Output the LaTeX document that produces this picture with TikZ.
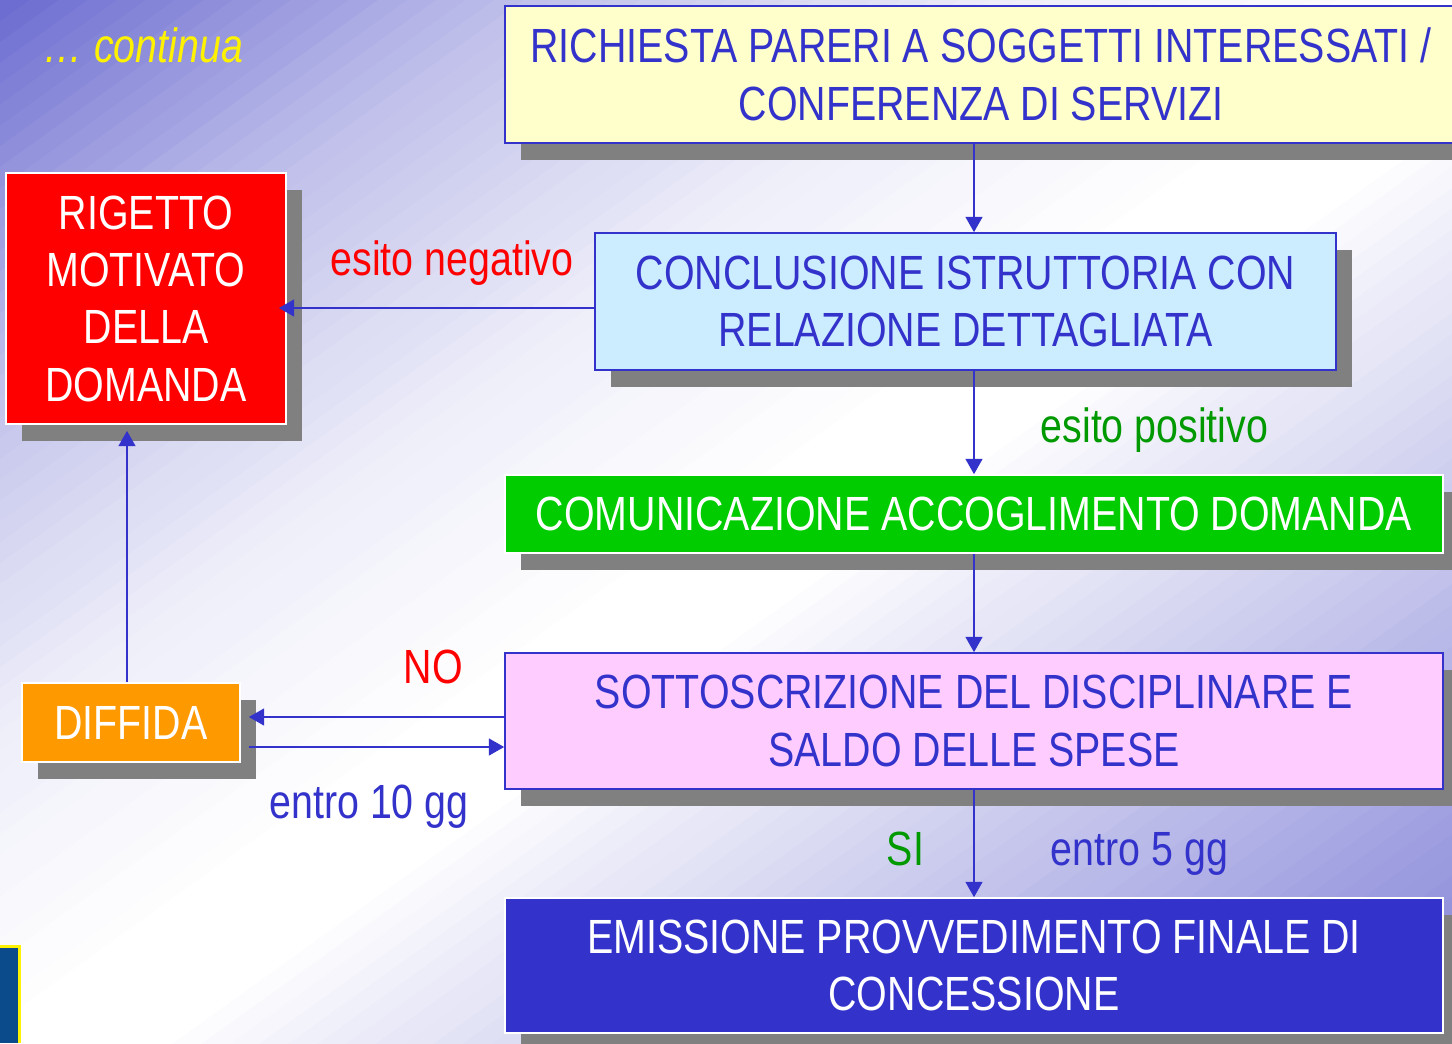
\documentclass[tikz,border=0pt]{standalone}
\usepackage{fontspec}
\setmainfont{Liberation Sans}[FakeStretch=0.82]
\usetikzlibrary{arrows.meta,calc,shadows}
\definecolor{bgdark}{RGB}{106,106,208}
\definecolor{dblue}{HTML}{3333CC}
\definecolor{yel}{HTML}{FFFFCC}
\definecolor{lblue}{HTML}{CCECFF}
\definecolor{gbox}{HTML}{00CC00}
\definecolor{pink}{HTML}{FFCCFF}
\definecolor{orng}{HTML}{FF9900}
\definecolor{redbox}{HTML}{FF0000}
\definecolor{shadowc}{HTML}{808080}
\definecolor{glab}{HTML}{009900}
\definecolor{logoblue}{HTML}{0B4A8B}
\tikzset{
  box/.style={rectangle, inner sep=0pt, line width=1.2pt, align=center,
    font=\fontsize{36}{43}\selectfont,
    general shadow={shadow xshift=12pt, shadow yshift=-12.75pt, fill=shadowc}},
  arr/.style={draw=dblue, line width=1.9pt, -{Triangle[width=12.5pt,length=11.5pt]}},
  lab/.style={anchor=base, inner sep=0pt, font=\fontsize{36}{43}\selectfont}
}
\begin{document}
\begin{tikzpicture}[x=0.75pt,y=-0.75pt]
\useasboundingbox (0,0) rectangle (1452,1043);
% background gradient
\begin{scope}
\clip (0,0) rectangle (1452,1043);
\foreach \i in {0,...,99}{
  \pgfmathsetmacro\ta{\i/50}
  \pgfmathsetmacro\tb{(\i+1.3)/50}
  \pgfmathsetmacro\tm{(\i+0.5)/50}
  \pgfmathtruncatemacro\p{\tm<0.35 ? 100-160*\tm : (\tm<0.7 ? 44-91.4*(\tm-0.35) : (\tm<1 ? 12-40*(\tm-0.7) : (\tm<1.1 ? 0 : 85*(\tm-1.1)/0.9)))}
  \fill[bgdark!\p!white] (\ta*1452+73,-52) -- (\tb*1452+73,-52) -- (\tb*1452-1525,1095) -- (\ta*1452-1525,1095) -- cycle;
}
\end{scope}
% logo fragment
\fill[yellow] (0,945) rectangle (21,1043);
\fill[logoblue] (0,948) rectangle (18,1043);

% boxes
\node[box, fill=yel, draw=dblue, text=dblue, minimum width=714pt, minimum height=102.75pt] (req) at (981,74.5)
  {RICHIESTA PARERI A SOGGETTI INTERESSATI /\\CONFERENZA DI SERVIZI};
\node[box, fill=lblue, draw=dblue, text=dblue, minimum width=555.75pt, minimum height=102.75pt] (concl) at (965.5,301.5)
  {CONCLUSIONE ISTRUTTORIA CON\\RELAZIONE DETTAGLIATA};
\node[box, fill=redbox, draw=white, text=white, minimum width=210pt, minimum height=188.25pt] (rig) at (146,298.5)
  {RIGETTO\\MOTIVATO\\DELLA\\DOMANDA};
\node[box, fill=gbox, draw=white, text=white, minimum width=703.5pt, minimum height=58.5pt] (com) at (974,514)
  {COMUNICAZIONE ACCOGLIMENTO DOMANDA};
\node[box, fill=pink, draw=dblue, text=dblue, minimum width=703.5pt, minimum height=102pt] (sott) at (974,721)
  {SOTTOSCRIZIONE DEL DISCIPLINARE E\\SALDO DELLE SPESE};
\node[box, fill=dblue, draw=white, text=white, minimum width=703.5pt, minimum height=101.25pt] (emis) at (974,965.5)
  {EMISSIONE PROVVEDIMENTO FINALE DI\\CONCESSIONE};
\node[box, fill=orng, draw=white, text=white, minimum width=163.5pt, minimum height=59.25pt] (diff) at (131,722.5)
  {DIFFIDA};

% connectors
\draw[arr] (req.south -| com.center) -- (concl.north -| com.center);
\draw[arr] (concl.south -| com.center) -- (com.north);
\draw[arr] (com.south) -- (sott.north);
\draw[arr] (sott.south) -- (emis.north);
\draw[arr, shorten >=-6pt] (concl.west |- 0,308) -- (rig.east |- 0,308);
\draw[arr, shorten >=6pt] (sott.west |- 0,717) -- (diff.east |- 0,717);
\draw[arr, shorten <=6pt] (diff.east |- 0,747) -- (sott.west |- 0,747);
\draw[arr, shorten >=4.5pt] (diff.north -| 127,0) -- (rig.south -| 127,0);

% labels
\node[lab, text=yellow, font=\fontsize{36}{43}\selectfont\itshape] (cont) at (143.5,62) {… continua};
\node[lab, text=redbox] (neg) at (452,275) {esito negativo};
\node[lab, text=glab] (pos) at (1154.5,442) {esito positivo};
\node[lab, text=redbox] (no) at (433.5,683) {NO};
\node[lab, text=dblue] (e10) at (369,818) {entro 10 gg};
\node[lab, text=glab] (si) at (905.5,865) {SI};
\node[lab, text=dblue] (e5) at (1139.5,865) {entro 5 gg};
\end{tikzpicture}
\end{document}
